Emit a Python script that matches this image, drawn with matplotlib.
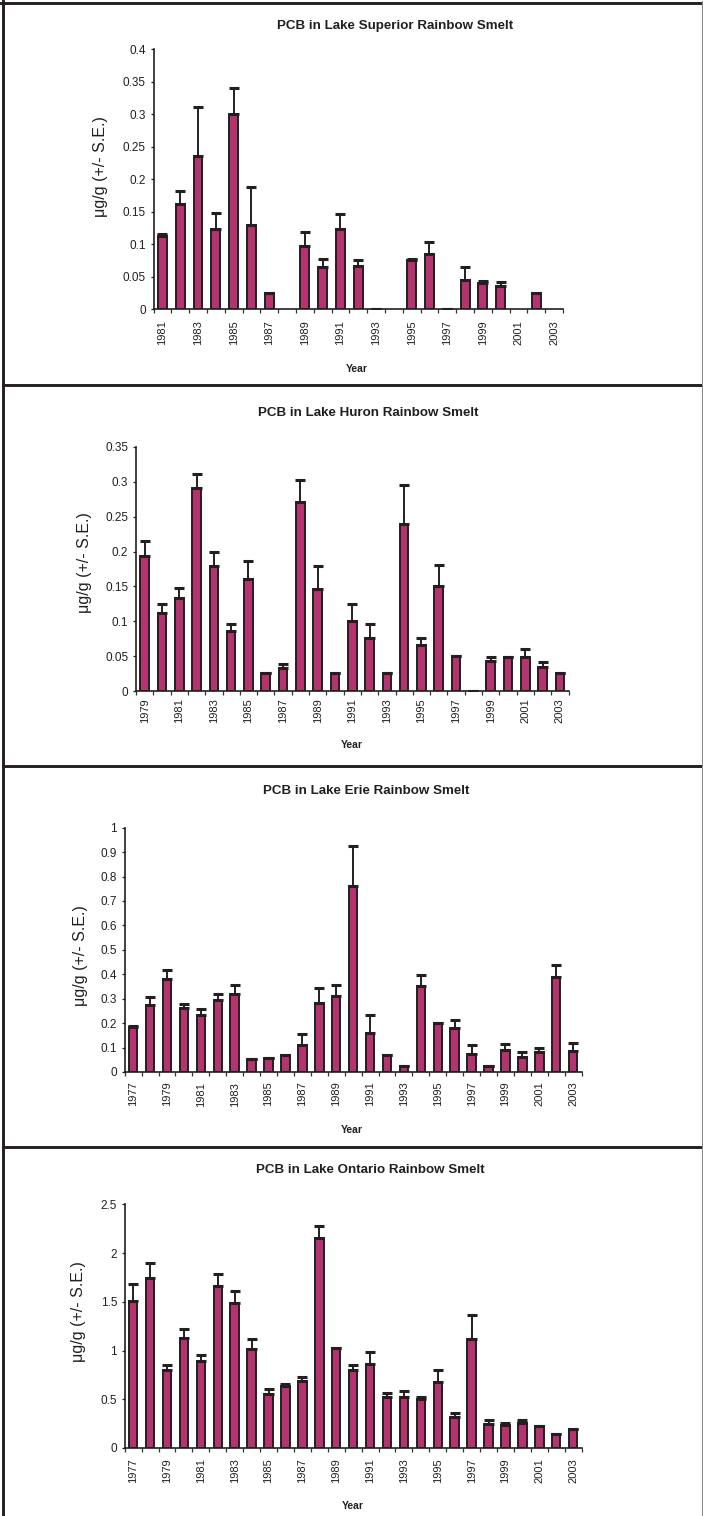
import numpy as np
import matplotlib
matplotlib.use("Agg")
import matplotlib.pyplot as plt
from matplotlib.lines import Line2D
from matplotlib.ticker import FuncFormatter, FixedLocator

plt.rcParams['font.family'] = ['Liberation Sans', 'DejaVu Sans']

nan = np.nan

# ---------------- data ----------------
superior_years = list(range(1981, 2004))
superior_mean = [0.113, 0.162, 0.235, 0.123, 0.300, 0.129, 0.0245, nan, 0.097, 0.065, 0.123, 0.067,
                 0.0, nan, 0.076, 0.085, 0.0, 0.045, 0.040, 0.036, nan, 0.025, nan]
superior_se = [0.002, 0.020, 0.076, 0.025, 0.040, 0.059, 0.0, nan, 0.021, 0.012, 0.023, 0.008,
               0.0, nan, 0.001, 0.018, 0.0, 0.019, 0.003, 0.006, nan, 0.0, nan]

huron_years = list(range(1979, 2004))
huron_mean = [0.193, 0.1125, 0.134, 0.291, 0.179, 0.086, 0.161, 0.026, 0.034, 0.271, 0.146, 0.026,
              0.100, 0.076, 0.026, 0.239, 0.066, 0.150, 0.0505, 0.0, 0.044, 0.0496, 0.0496, 0.035, 0.026]
huron_se = [0.0225, 0.0125, 0.014, 0.020, 0.021, 0.010, 0.026, 0.0, 0.005, 0.032, 0.033, 0.0,
            0.025, 0.021, 0.0, 0.056, 0.010, 0.031, 0.0, 0.0, 0.005, 0.0, 0.0115, 0.007, 0.0]

erie_years = list(range(1977, 2004))
erie_mean = [0.186, 0.273, 0.379, 0.262, 0.235, 0.296, 0.319, 0.052, 0.056, 0.071, 0.112, 0.284,
             0.311, 0.760, 0.158, 0.068, 0.023, 0.351, 0.199, 0.181, 0.072, 0.026, 0.089, 0.061,
             0.082, 0.387, 0.086]
erie_se = [0.002, 0.035, 0.038, 0.016, 0.021, 0.022, 0.037, 0.0, 0.0, 0.0, 0.045, 0.060,
           0.045, 0.165, 0.077, 0.0, 0.0, 0.046, 0.0, 0.033, 0.038, 0.0, 0.026, 0.019,
           0.016, 0.050, 0.033]

ontario_years = list(range(1977, 2004))
ontario_mean = [1.508, 1.744, 0.797, 1.125, 0.896, 1.659, 1.488, 1.016, 0.554, 0.640, 0.687, 2.151,
                1.023, 0.800, 0.862, 0.520, 0.520, 0.503, 0.681, 0.321, 1.115, 0.250, 0.239, 0.253,
                0.226, 0.144, 0.192]
ontario_se = [0.175, 0.151, 0.051, 0.096, 0.058, 0.123, 0.123, 0.099, 0.051, 0.020, 0.042, 0.123,
              0.007, 0.048, 0.126, 0.044, 0.065, 0.020, 0.119, 0.042, 0.246, 0.037, 0.021, 0.034,
              0.004, 0.003, 0.003]

titles = ["PCB in Lake Superior Rainbow Smelt", "PCB in Lake Huron Rainbow Smelt",
          "PCB in Lake Erie Rainbow Smelt", "PCB in Lake Ontario Rainbow Smelt"]
y_label = "\u03bcg/g (+/- S.E.)"
x_label = "Year"

# ---------------- layout (pixels) ----------------
W, H = 703, 1516
fig = plt.figure(figsize=(W / 100, H / 100), dpi=100)

BAR = '#b5336f'
EDGE = '#231f20'


def fx(x):
    return x / W


def fy(y):
    return 1 - y / H


panels = [
    dict(years=superior_years, mean=superior_mean, se=superior_se, ymax=0.4, ystep=0.05,
         box=(153.5, 563, 49.3, 309), title=(395, 25.5), ylab=(101, 167), xlab=(357, 369), pad=8),
    dict(years=huron_years, mean=huron_mean, se=huron_se, ymax=0.35, ystep=0.05,
         box=(136, 568.5, 446.7, 691.3), title=(368, 413), ylab=(85, 563), xlab=(352, 745), pad=5),
    dict(years=erie_years, mean=erie_mean, se=erie_se, ymax=1.0, ystep=0.1,
         box=(124.7, 581.6, 827.7, 1072), title=(366, 791), ylab=(81, 956), xlab=(352, 1130), pad=7),
    dict(years=ontario_years, mean=ontario_mean, se=ontario_se, ymax=2.5, ystep=0.5,
         box=(124.7, 581.6, 1204.3, 1448), title=(370, 1170), ylab=(78, 1312), xlab=(353, 1506), pad=7.5),
]

for p, title in zip(panels, titles):
    xl, xr, yt, yb = p['box']
    ax = fig.add_axes([fx(xl), fy(yb), fx(xr - xl), (yb - yt) / H])
    n = len(p['years'])
    x = np.arange(n)
    mean = np.array(p['mean'], dtype=float)
    se = np.array(p['se'], dtype=float)
    ax.bar(x, mean, width=0.5, color=BAR, edgecolor=EDGE, linewidth=1.4, zorder=2)
    ax.errorbar(x, mean, yerr=[np.zeros(n), se], fmt='none', ecolor=EDGE, elinewidth=1.4,
                capsize=3.8, capthick=2.2, zorder=3)
    ax.set_xlim(-0.5, n - 0.5)
    ax.set_ylim(0, p['ymax'])
    ax.yaxis.set_major_locator(FixedLocator(np.round(np.arange(0, p['ymax'] + 1e-9, p['ystep']), 4)))
    ax.yaxis.set_major_formatter(FuncFormatter(lambda v, pos: f"{v:g}"))
    ax.set_xticks(x[::2])
    ax.set_xticklabels([str(yv) for yv in p['years'][::2]], rotation=90)
    ax.set_xticks(np.arange(n + 1) - 0.5, minor=True)
    ax.tick_params(axis='x', which='major', length=0, pad=p['pad'], labelsize=8, colors='#231f20')
    ax.tick_params(axis='x', which='minor', length=2.8, width=0.9, direction='out', color='#333333')
    ax.tick_params(axis='y', which='major', length=2.5, width=0.9, direction='out', pad=3,
                   labelsize=8.5, colors='#231f20')
    for s in ('top', 'right'):
        ax.spines[s].set_visible(False)
    for s in ('left', 'bottom'):
        ax.spines[s].set_linewidth(1.2)
        ax.spines[s].set_color('#231f20')
    ax.set_facecolor('none')

    fig.text(fx(p['title'][0]), fy(p['title'][1]), title, ha='center', va='center',
             fontsize=9.6, fontweight='bold', color='#231f20')
    fig.text(fx(p['ylab'][0]), fy(p['ylab'][1]), y_label, ha='center', va='center',
             rotation=90, fontsize=11.5, color='#231f20')
    fig.text(fx(p['xlab'][0]), fy(p['xlab'][1]), x_label, ha='center', va='center',
             fontsize=7.5, fontweight='bold', color='#231f20')

# ---------------- frame lines ----------------
def hline(y, x0=2.5, x1=703, lw=2.1, c='#231f20'):
    fig.add_artist(Line2D([fx(x0), fx(x1)], [fy(y), fy(y)], lw=lw, color=c, transform=fig.transFigure))


def vline(x, y0, y1, lw=2.1, c='#231f20'):
    fig.add_artist(Line2D([fx(x), fx(x)], [fy(y0), fy(y1)], lw=lw, color=c, transform=fig.transFigure))


hline(2.5, x0=1)
hline(384.7)
hline(766)
hline(1146.5)
vline(2.5, 1, H)
vline(702, 1, H, lw=0.8, c='#888888')

fig.savefig('out.png', dpi=100)
